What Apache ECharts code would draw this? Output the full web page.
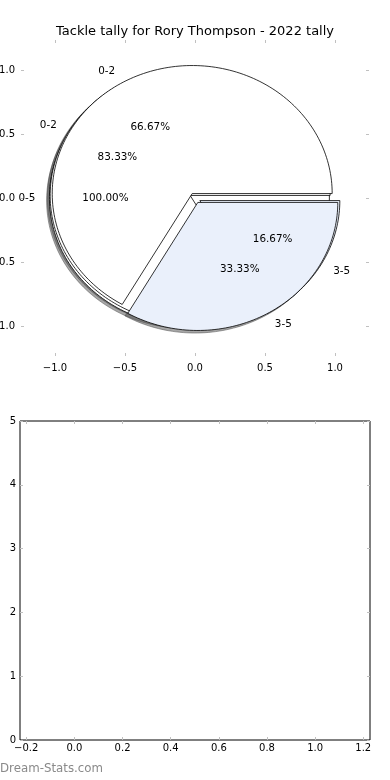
<!DOCTYPE html>
<html><head><meta charset="utf-8">
<script src="https://cdn.jsdelivr.net/npm/echarts@6/dist/echarts.min.js"></script>
<style>html,body{margin:0;padding:0;background:#fff}#c{width:390px;height:780px}</style>
</head><body><div id="c"></div>
<script>
// ---- data ----
const titleText = 'Tackle tally for Rory Thompson - 2022 tally';
const pie1Labels = ['0-2', '3-5'];
const pie1Values = [4, 2];
const pie2Labels = ['0-2', '3-5'];
const pie2Values = [5, 1];
const pie3Labels = ['0-5'];
const pie3Values = [6];
const topXTicks = [-1, -0.5, 0, 0.5, 1];
const topYTicks = [-1, -0.5, 0, 0.5, 1];
const bottomXTicks = [-0.2, 0, 0.2, 0.4, 0.6, 0.8, 1.0, 1.2];
const bottomYTicks = [0, 1, 2, 3, 4, 5];
const watermark = 'Dream-Stats.com';

// ---- styling ----
const FONT = 'DejaVu Sans';
const EXPLODE = 0.04;
const sliceColors = ['#ffffff', '#eaf0fb'];
const tickGray = '#c0c0c0';

function buildWedges(labels, values) {
  const total = values.reduce((a, b) => a + b, 0);
  let acc = 0;
  return values.map((v, i) => {
    const a0 = acc / total * 360; acc += v; const a1 = acc / total * 360;
    const mid = (a0 + a1) / 2 * Math.PI / 180;
    return { label: labels[i], pct: v / total * 100, a0, a1,
      cx: EXPLODE * Math.cos(mid), cy: EXPLODE * Math.sin(mid),
      color: sliceColors[i % sliceColors.length], full: (a1 - a0) >= 359.999 };
  });
}
// draw order: bottom first
const wedges = [].concat(
  buildWedges(pie3Labels, pie3Values),
  buildWedges(pie2Labels, pie2Values),
  buildWedges(pie1Labels, pie1Values)
);

function wedgePoly(api, w, ox, oy) {
  const pts = [];
  const cx = w.cx + ox, cy = w.cy + oy;
  if (!w.full) pts.push(api.coord([cx, cy]));
  const n = Math.ceil((w.a1 - w.a0) / 1.5) + 1;
  for (let i = 0; i <= n; i++) {
    const a = (w.a0 + (w.a1 - w.a0) * i / n) * Math.PI / 180;
    pts.push(api.coord([cx + Math.cos(a), cy + Math.sin(a)]));
  }
  return pts;
}
function fmt1(v) {
  const s = Math.abs(v) < 1e-9 ? '0.0' : v.toFixed(1);
  return s.replace('-', '\u2212');
}

const wedgeData = wedges.map(w => [w.cx, w.cy]);
const chart = echarts.init(document.getElementById('c'), null, { renderer: 'canvas' });

const tickBase = (vals) => ({ show: true, customValues: vals, inside: true, length: 3, lineStyle: { color: tickGray, width: 1 } });
const noLine = { show: false, onZero: false };
const xLbl = (vals, f, margin) => ({ customValues: vals, formatter: f, fontSize: 10, color: '#000', margin: margin, fontFamily: FONT, alignMinLabel: 'center', alignMaxLabel: 'center', hideOverlap: false });
const yLbl = (vals, f, margin) => ({ customValues: vals, formatter: f, fontSize: 10, color: '#000', margin: margin, fontFamily: FONT, hideOverlap: false });

chart.setOption({
  animation: false,
  backgroundColor: '#fff',
  textStyle: { fontFamily: FONT },
  title: { text: titleText, left: 'center', top: 20, textStyle: { fontSize: 13, fontWeight: 'normal', color: '#000', fontFamily: FONT } },
  grid: [
    { left: 21, right: 21, top: 40, height: 316, containLabel: false, outerBoundsMode: 'none' },
    { left: 20, right: 20, top: 421, height: 319, show: true, borderColor: '#000', borderWidth: 1, backgroundColor: '#fff', containLabel: false, outerBoundsMode: 'none' }
  ],
  xAxis: [
    { type: 'value', gridIndex: 0, position: 'bottom', min: -1.243, max: 1.243,
      axisLine: noLine, splitLine: { show: false },
      axisTick: tickBase(topXTicks), axisLabel: xLbl(topXTicks, fmt1, 7) },
    { type: 'value', gridIndex: 0, position: 'top', min: -1.243, max: 1.243,
      axisLine: noLine, splitLine: { show: false },
      axisTick: tickBase(topXTicks), axisLabel: { show: false } },
    { type: 'value', gridIndex: 1, position: 'bottom', min: -0.226, max: 1.228,
      axisLine: noLine, splitLine: { show: false },
      axisTick: tickBase(bottomXTicks), axisLabel: xLbl(bottomXTicks, fmt1, 3) },
    { type: 'value', gridIndex: 1, position: 'top', min: -0.226, max: 1.228,
      axisLine: noLine, splitLine: { show: false },
      axisTick: tickBase(bottomXTicks), axisLabel: { show: false } }
  ],
  yAxis: [
    { type: 'value', gridIndex: 0, position: 'left', min: -1.234, max: 1.234,
      axisLine: noLine, splitLine: { show: false },
      axisTick: tickBase(topYTicks), axisLabel: yLbl(topYTicks, fmt1, 6) },
    { type: 'value', gridIndex: 0, position: 'right', min: -1.234, max: 1.234,
      axisLine: noLine, splitLine: { show: false },
      axisTick: tickBase(topYTicks), axisLabel: { show: false } },
    { type: 'value', gridIndex: 1, position: 'left', min: 0, max: 5, interval: 1,
      axisLine: noLine, splitLine: { show: false },
      axisTick: tickBase(bottomYTicks), axisLabel: yLbl(bottomYTicks, v => String(v), 4) },
    { type: 'value', gridIndex: 1, position: 'right', min: 0, max: 5, interval: 1,
      axisLine: noLine, splitLine: { show: false },
      axisTick: tickBase(bottomYTicks), axisLabel: { show: false } }
  ],
  series: [
    { type: 'custom', name: 'shadows', coordinateSystem: 'cartesian2d', xAxisIndex: 0, yAxisIndex: 0, z: 1, silent: true, clip: false,
      data: wedgeData,
      renderItem: (params, api) => {
        const w = wedges[params.dataIndex];
        return { type: 'polygon', shape: { points: wedgePoly(api, w, -0.02, -0.02) },
          style: { fill: 'rgba(77,77,77,0.5)', stroke: 'rgba(77,77,77,0.5)', lineWidth: 1 } };
      } },
    { type: 'custom', name: 'wedges', coordinateSystem: 'cartesian2d', xAxisIndex: 0, yAxisIndex: 0, z: 2, silent: true, clip: false,
      data: wedgeData,
      renderItem: (params, api) => {
        const w = wedges[params.dataIndex];
        return { type: 'polygon', z2: params.dataIndex, shape: { points: wedgePoly(api, w, 0, 0) },
          style: { fill: w.color, stroke: '#000', lineWidth: 0.8, lineJoin: 'miter' } };
      } },
    { type: 'custom', name: 'labels', coordinateSystem: 'cartesian2d', xAxisIndex: 0, yAxisIndex: 0, z: 3, silent: true, clip: false,
      data: wedgeData,
      renderItem: (params, api) => {
        const w = wedges[params.dataIndex];
        const mid = (w.a0 + w.a1) / 2 * Math.PI / 180;
        const xt = w.cx + 1.1 * Math.cos(mid), yt = w.cy + 1.1 * Math.sin(mid);
        const xp = w.cx + 0.6 * Math.cos(mid), yp = w.cy + 0.6 * Math.sin(mid);
        const pt = api.coord([xt, yt]), pp = api.coord([xp, yp]);
        return { type: 'group', children: [
          { type: 'text', x: pt[0], y: pt[1], style: { text: w.label, fill: '#000', fontSize: 10.4, fontFamily: FONT, align: xt < 0 ? 'right' : 'left', verticalAlign: 'middle' } },
          { type: 'text', x: pp[0], y: pp[1], style: { text: w.pct.toFixed(2) + '%', fill: '#000', fontSize: 10.4, fontFamily: FONT, align: 'center', verticalAlign: 'middle' } }
        ] };
      } },
    { type: 'line', xAxisIndex: 2, yAxisIndex: 2, data: [] }
  ],
  graphic: [
    { type: 'text', left: 0, top: 763, style: { text: watermark, fill: '#8a8a8a', fontSize: 11.8, fontWeight: 'normal', fontFamily: FONT } }
  ]
});
</script></body></html>
